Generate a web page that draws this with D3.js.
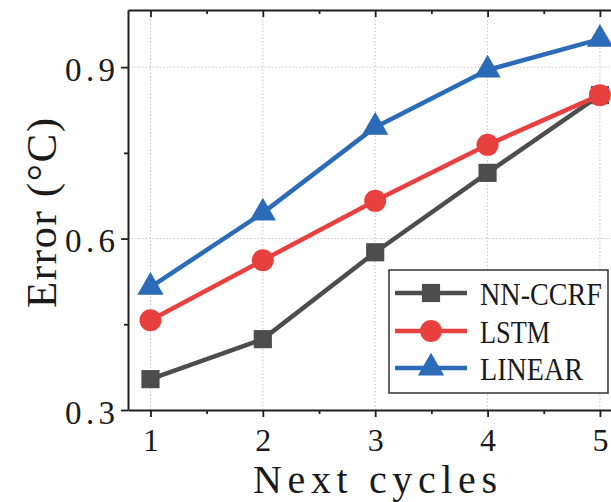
<!DOCTYPE html>
<html lang="en">
<head>
    <meta charset="utf-8">
    <title>Error vs next cycles</title>
    <script src="https://d3js.org/d3.v7.min.js"></script>
    <style>
        body{
            margin: 0;
            background: #fff;
        }
        svg text{
            font-family: "Liberation Serif", "DejaVu Serif", serif;
            fill: #1a1a1a;
        }
    </style>
</head>
<body>
    <div class="chart"></div>

    <script>
        // data
        var cycles = [1, 2, 3, 4, 5];
        var nnccrf = [0.354, 0.424, 0.576, 0.715, 0.851];
        var lstm   = [0.457, 0.562, 0.666, 0.764, 0.851];
        var linear = [0.515, 0.645, 0.795, 0.895, 0.949];

        var seriesNames = ["NN-CCRF", "LSTM", "LINEAR"];
        var yTicks = [0.3, 0.6, 0.9];
        var yMinor = [0.45, 0.75];
        var xMinor = [1.5, 2.5, 3.5, 4.5];

        var width = 611;
        var height = 502;

        var series = [
            {name: seriesNames[0], values: nnccrf, color: "#4d4d4d", symbol: d3.symbolSquare, size: 330, tl: 122},
            {name: seriesNames[1], values: lstm,   color: "#e8403f", symbol: d3.symbolCircle, size: 380, tl: 70},
            {name: seriesNames[2], values: linear, color: "#2b6bb8", symbol: d3.symbolTriangle, size: 300, tl: 103}
        ];

        var svg = d3.select("div.chart")
            .append("svg")
            .attr("width", width)
            .attr("height", height);

        // right side of the plot runs past the picture edge
        var x = d3.scaleLinear().domain([0.8, 5.2]).range([128, 622.4]);
        var y = d3.scaleLinear().domain([0.3, 1.0]).range([410, 10]);

        // dotted grid
        var grid = svg.append("g").attr("class", "grid");
        grid.selectAll("line.gx")
            .data(cycles)
            .enter().append("line")
            .attr("x1", d => x(d)).attr("x2", d => x(d))
            .attr("y1", y(0.3)).attr("y2", y(1.0))
            .style("stroke", "#c4c4c4").style("stroke-width", 1).style("stroke-dasharray", "1.5,2");
        grid.selectAll("line.gy")
            .data(yTicks.slice(1))
            .enter().append("line")
            .attr("x1", x(0.8)).attr("x2", x(5.2))
            .attr("y1", d => y(d)).attr("y2", d => y(d))
            .style("stroke", "#c4c4c4").style("stroke-width", 1).style("stroke-dasharray", "1.5,2");

        // axes
        var xAxis = svg.append("g")
            .attr("transform", "translate(0," + y(0.3) + ")")
            .call(d3.axisBottom(x).tickValues(cycles).tickSize(7).tickSizeOuter(0).tickFormat(d3.format("d")));
        xAxis.selectAll("text").attr("y", 41).attr("dy", 0).style("font-size", "32px");

        svg.append("g")
            .attr("transform", "translate(0," + y(0.3) + ")")
            .call(d3.axisBottom(x).tickValues(xMinor).tickSize(4).tickSizeOuter(0).tickFormat(""))
            .select(".domain").remove();

        var yAxis = svg.append("g")
            .attr("transform", "translate(" + x(0.8) + ",0)")
            .call(d3.axisLeft(y).tickValues(yTicks).tickSize(7).tickSizeOuter(0).tickFormat(d3.format(".1f")));
        yAxis.selectAll("text")
            .attr("x", -13).attr("dy", 13)
            .attr("textLength", 50)
            .style("font-size", "33px");

        svg.append("g")
            .attr("transform", "translate(" + x(0.8) + ",0)")
            .call(d3.axisLeft(y).tickValues(yMinor).tickSize(4).tickSizeOuter(0).tickFormat(""))
            .select(".domain").remove();

        // top spine with inward ticks
        svg.append("g")
            .attr("transform", "translate(0," + y(1.0) + ")")
            .call(d3.axisBottom(x).tickValues(cycles).tickSize(7).tickSizeOuter(0).tickFormat(""));
        svg.append("g")
            .attr("transform", "translate(0," + y(1.0) + ")")
            .call(d3.axisBottom(x).tickValues(xMinor).tickSize(4).tickSizeOuter(0).tickFormat(""))
            .select(".domain").remove();

        svg.selectAll(".domain").style("stroke", "#1e1e1e").style("stroke-width", 2);
        svg.selectAll(".tick line").style("stroke", "#1e1e1e").style("stroke-width", 1.8);

        // axis titles
        svg.append("text")
            .attr("x", 253).attr("y", 493)
            .attr("textLength", 244)
            .style("font-size", "40px")
            .text("Next cycles");

        svg.append("text")
            .attr("transform", "translate(56,308) rotate(-90)")
            .attr("textLength", 190)
            .style("font-size", "43px")
            .text("Error (°C)");

        // lines + markers
        var line = d3.line()
            .x((d, i) => x(cycles[i]))
            .y(d => y(d));

        series.forEach(function(s){
            svg.append("path")
                .datum(s.values)
                .attr("d", line)
                .style("fill", "none")
                .style("stroke", s.color)
                .style("stroke-width", 4.5)
                .style("stroke-linejoin", "round");
        });

        series.forEach(function(s){
            var sym = d3.symbol().type(s.symbol).size(s.size);
            svg.append("g").selectAll("path")
                .data(s.values)
                .enter().append("path")
                .attr("d", sym)
                .attr("transform", (d, i) => "translate(" + x(cycles[i]) + "," + y(d) + ")")
                .style("fill", s.color);
        });

        // legend
        var legend = svg.append("g").attr("class", "legend");
        legend.append("rect")
            .attr("x", 389).attr("y", 270)
            .attr("width", 219).attr("height", 123)
            .style("fill", "white")
            .style("stroke", "#333")
            .style("stroke-width", 1.5);

        var rowY = [293, 331, 368];
        series.forEach(function(s, i){
            var g = legend.append("g").attr("transform", "translate(0," + rowY[i] + ")");
            g.append("line")
                .attr("x1", 395).attr("x2", 467)
                .style("stroke", s.color).style("stroke-width", 4.5);
            g.append("path")
                .attr("d", d3.symbol().type(s.symbol).size(s.size)())
                .attr("transform", "translate(431,0)")
                .style("fill", s.color);
            g.append("text")
                .attr("x", 480).attr("y", 12)
                .attr("textLength", s.tl)
                .attr("lengthAdjust", "spacingAndGlyphs")
                .style("font-size", "32px")
                .text(s.name);
        });
    </script>
</body>
</html>
